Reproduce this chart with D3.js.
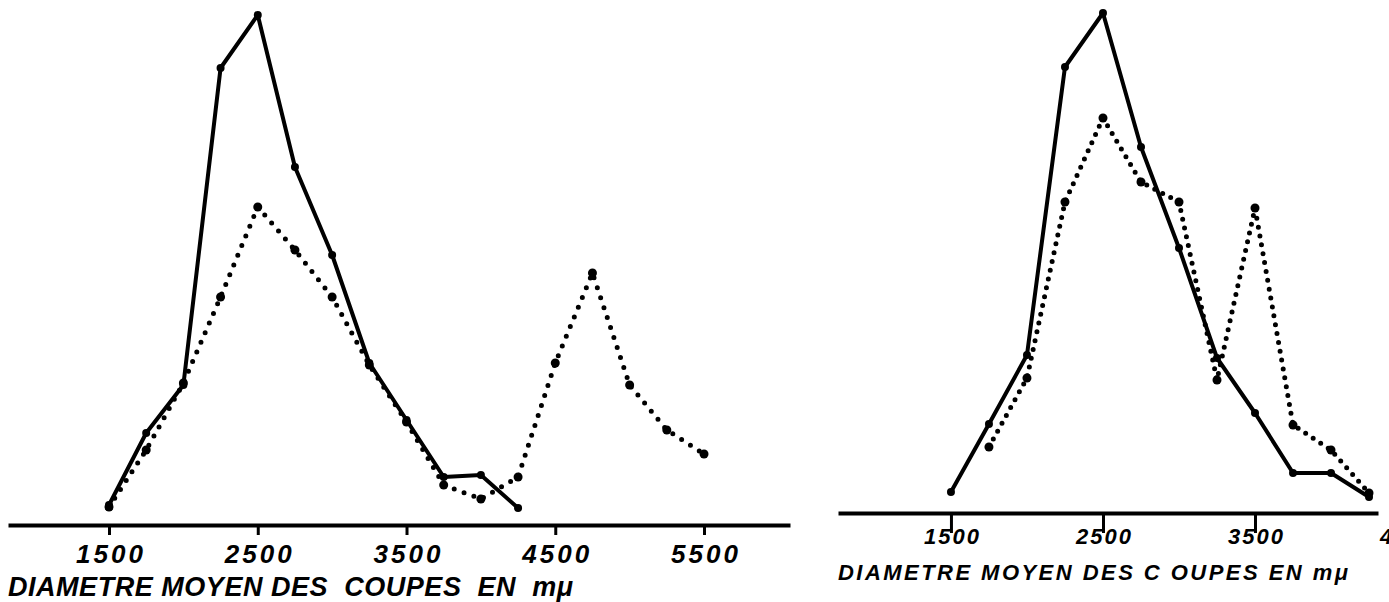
<!DOCTYPE html>
<html>
<head>
<meta charset="utf-8">
<script src="https://cdn.jsdelivr.net/npm/d3@7"></script>
<style>
  body { margin: 0; background: #fff; }
  svg { display: block; }
  .tick text { font-family: "Liberation Sans", sans-serif; font-style: italic; font-weight: bold; fill: #000; }
  .title { font-style: italic; fill: #000; white-space: pre; }
</style>
</head>
<body>
<div id="chart"></div>
<script>
const width = 1389, height = 602;

// left panel: diameter classes (mμ) and frequencies
const leftSolidX = [1500, 1750, 2000, 2250, 2500, 2750, 3000, 3250, 3500, 3750, 4000, 4250];
const leftSolidY = [4, 18.4, 28, 91.4, 102, 71.6, 54, 32.4, 21, 9.6, 10, 3.4];
const leftDottedX = [1500, 1750, 2000, 2250, 2500, 2750, 3000, 3250, 3500, 3750, 4000, 4250, 4500, 4750, 5000, 5250, 5500];
const leftDottedY = [3.6, 15, 28.4, 45.6, 63.6, 55, 45.6, 32, 20.6, 8, 5.2, 9.6, 32.4, 50.4, 28, 19, 14.2];
const leftTicks = [1500, 2500, 3500, 4500, 5500];

// right panel
const rightSolidX = [1500, 1750, 2000, 2250, 2500, 2750, 3000, 3250, 3500, 3750, 4000, 4250];
const rightSolidY = [4.2, 17.8, 31.6, 89.2, 100, 73.2, 53, 31, 20, 8, 8, 3.2];
const rightDottedX = [1750, 2000, 2250, 2500, 2750, 3000, 3250, 3500, 3750, 4000, 4250];
const rightDottedY = [13.2, 27, 62.2, 79, 66.2, 62.2, 26.6, 61, 17.6, 12.6, 4];
const rightTicks = [1500, 2500, 3500, 4500];

const titleText = "DIAMETRE MOYEN DES  COUPES  EN  mμ";
const titleTextRight = "DIAMETRE MOYEN DES C OUPES EN mμ";

const svg = d3.select("#chart")
    .append("svg")
    .attr("width", width)
    .attr("height", height);

function zip(xs, ys) {
    return xs.map((x, i) => ({ x: x, y: ys[i] }));
}

function drawPanel(p) {
    const x = d3.scaleLinear().domain(p.xDomain).range(p.xRange);
    const y = d3.scaleLinear().domain([0, 100]).range([p.axisY, p.axisY - 500]);
    const line = d3.line().x(d => x(d.x)).y(d => y(d.y));
    const g = svg.append("g");

    // axis
    const ax = g.append("g")
        .attr("transform", `translate(0,${p.axisY})`)
        .call(d3.axisBottom(x).tickValues(p.ticks).tickSize(p.tickLen).tickSizeOuter(0).tickFormat(d3.format("d")));
    ax.select(".domain").attr("stroke", "#000").attr("stroke-width", 4);
    ax.selectAll(".tick line").attr("stroke", "#000").attr("stroke-width", 3);
    ax.selectAll(".tick text")
        .attr("y", p.labelOffset)
        .attr("dy", 0)
        .attr("dx", p.labelSpacing / 2)
        .attr("font-size", p.labelSize)
        .attr("letter-spacing", p.labelSpacing);

    // dotted series
    const dotted = zip(p.dottedX, p.dottedY);
    g.append("path")
        .datum(dotted)
        .attr("fill", "none")
        .attr("stroke", "#000")
        .attr("stroke-width", 5)
        .attr("stroke-linecap", "round")
        .attr("stroke-dasharray", `0 ${p.dotGap}`)
        .attr("d", line);
    g.selectAll(".dv")
        .data(dotted)
        .enter()
        .append("circle")
        .attr("cx", d => x(d.x))
        .attr("cy", d => y(d.y))
        .attr("r", 4.5)
        .attr("fill", "#000");

    // solid series
    const solid = zip(p.solidX, p.solidY);
    g.append("path")
        .datum(solid)
        .attr("fill", "none")
        .attr("stroke", "#000")
        .attr("stroke-width", 4)
        .attr("stroke-linejoin", "round")
        .attr("d", line);
    g.selectAll(".sv")
        .data(solid)
        .enter()
        .append("circle")
        .attr("cx", d => x(d.x))
        .attr("cy", d => y(d.y))
        .attr("r", 4)
        .attr("fill", "#000");

    // axis title
    g.append("text")
        .attr("class", "title")
        .attr("x", p.titleX)
        .attr("y", p.titleY)
        .attr("font-family", p.titleFont)
        .attr("font-size", p.titleSize)
        .attr("font-weight", p.titleWeight)
        .attr("textLength", p.titleLen)
        .attr("lengthAdjust", "spacing")
        .text(p.title);
}

drawPanel({
    xDomain: [821, 6078], xRange: [8, 790], axisY: 525,
    ticks: leftTicks, tickLen: 10, labelOffset: 38, labelSize: 26, labelSpacing: 3,
    solidX: leftSolidX, solidY: leftSolidY, dottedX: leftDottedX, dottedY: leftDottedY,
    dotGap: 10.5,
    title: titleText, titleX: 8, titleY: 596, titleSize: 27, titleWeight: "bold",
    titleFont: "'Liberation Sans', sans-serif", titleLen: 565
});

drawPanel({
    xDomain: [757, 4309], xRange: [838, 1378], axisY: 513,
    ticks: rightTicks, tickLen: 20, labelOffset: 31, labelSize: 22, labelSpacing: 2,
    solidX: rightSolidX, solidY: rightSolidY, dottedX: rightDottedX, dottedY: rightDottedY,
    dotGap: 9,
    title: titleTextRight, titleX: 838, titleY: 580, titleSize: 22, titleWeight: "600",
    titleFont: "'Liberation Sans', sans-serif", titleLen: 510
});
</script>
</body>
</html>
